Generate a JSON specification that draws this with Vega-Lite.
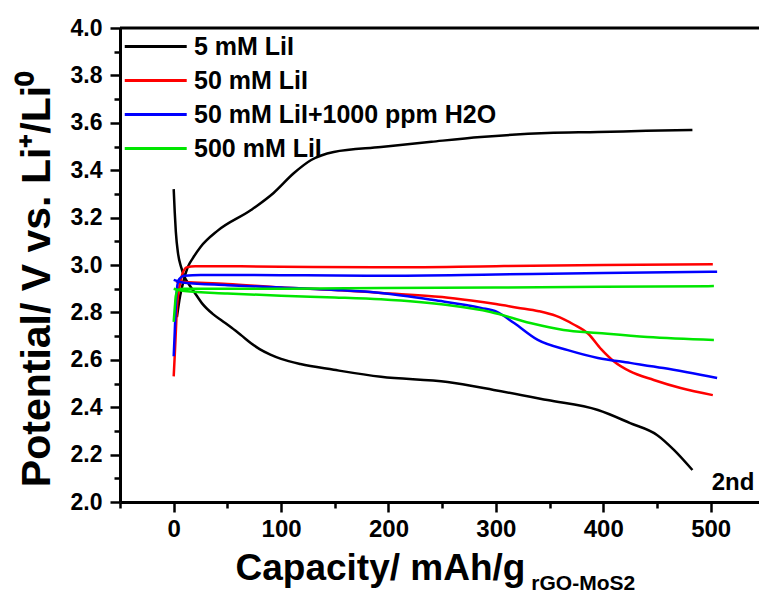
{
  "$schema": "https://vega.github.io/schema/vega-lite/v6.json",
  "width": 639,
  "height": 474,
  "autosize": {"type": "none"},
  "padding": {"left": 120, "top": 28, "right": 0, "bottom": 92},
  "background": "white",
  "config": {
    "view": {"stroke": null},
    "font": "Liberation Sans",
    "axis": {"grid": false, "labelFont": "Liberation Sans", "labelFontWeight": "bold", "labelColor": "black", "titleFont": "Liberation Sans", "titleFontWeight": "bold", "titleColor": "black", "domainColor": "black", "tickColor": "black"}
  },
  "datasets": {
    "curves": [
      {"s": "5 mM LiI", "b": "d", "i": 1, "x": 0, "y": 3.32},
      {"s": "5 mM LiI", "b": "d", "i": 2, "x": 1, "y": 3.22},
      {"s": "5 mM LiI", "b": "d", "i": 3, "x": 2, "y": 3.14},
      {"s": "5 mM LiI", "b": "d", "i": 4, "x": 4, "y": 3.05},
      {"s": "5 mM LiI", "b": "d", "i": 5, "x": 7, "y": 2.99},
      {"s": "5 mM LiI", "b": "d", "i": 6, "x": 10, "y": 2.95},
      {"s": "5 mM LiI", "b": "d", "i": 7, "x": 14, "y": 2.92},
      {"s": "5 mM LiI", "b": "d", "i": 8, "x": 20, "y": 2.88},
      {"s": "5 mM LiI", "b": "d", "i": 9, "x": 27, "y": 2.835},
      {"s": "5 mM LiI", "b": "d", "i": 10, "x": 36, "y": 2.795},
      {"s": "5 mM LiI", "b": "d", "i": 11, "x": 45, "y": 2.765},
      {"s": "5 mM LiI", "b": "d", "i": 12, "x": 54, "y": 2.735},
      {"s": "5 mM LiI", "b": "d", "i": 13, "x": 63, "y": 2.703},
      {"s": "5 mM LiI", "b": "d", "i": 14, "x": 72, "y": 2.67},
      {"s": "5 mM LiI", "b": "d", "i": 15, "x": 80, "y": 2.645},
      {"s": "5 mM LiI", "b": "d", "i": 16, "x": 90, "y": 2.622},
      {"s": "5 mM LiI", "b": "d", "i": 17, "x": 100, "y": 2.604},
      {"s": "5 mM LiI", "b": "d", "i": 18, "x": 118, "y": 2.582},
      {"s": "5 mM LiI", "b": "d", "i": 19, "x": 149, "y": 2.558},
      {"s": "5 mM LiI", "b": "d", "i": 20, "x": 193, "y": 2.528},
      {"s": "5 mM LiI", "b": "d", "i": 21, "x": 255, "y": 2.506},
      {"s": "5 mM LiI", "b": "d", "i": 22, "x": 298, "y": 2.473},
      {"s": "5 mM LiI", "b": "d", "i": 23, "x": 348, "y": 2.43},
      {"s": "5 mM LiI", "b": "d", "i": 24, "x": 395, "y": 2.388},
      {"s": "5 mM LiI", "b": "d", "i": 25, "x": 425, "y": 2.333},
      {"s": "5 mM LiI", "b": "d", "i": 26, "x": 450, "y": 2.283},
      {"s": "5 mM LiI", "b": "d", "i": 27, "x": 466, "y": 2.219},
      {"s": "5 mM LiI", "b": "d", "i": 28, "x": 483, "y": 2.135},
      {"s": "5 mM LiI", "b": "c", "i": 1, "x": 3, "y": 2.78},
      {"s": "5 mM LiI", "b": "c", "i": 2, "x": 6, "y": 2.87},
      {"s": "5 mM LiI", "b": "c", "i": 3, "x": 9, "y": 2.93},
      {"s": "5 mM LiI", "b": "c", "i": 4, "x": 13, "y": 2.99},
      {"s": "5 mM LiI", "b": "c", "i": 5, "x": 18, "y": 3.03},
      {"s": "5 mM LiI", "b": "c", "i": 6, "x": 25, "y": 3.076},
      {"s": "5 mM LiI", "b": "c", "i": 7, "x": 41, "y": 3.145},
      {"s": "5 mM LiI", "b": "c", "i": 8, "x": 72, "y": 3.232},
      {"s": "5 mM LiI", "b": "c", "i": 9, "x": 93, "y": 3.304},
      {"s": "5 mM LiI", "b": "c", "i": 10, "x": 112, "y": 3.388},
      {"s": "5 mM LiI", "b": "c", "i": 11, "x": 128, "y": 3.443},
      {"s": "5 mM LiI", "b": "c", "i": 12, "x": 149, "y": 3.477},
      {"s": "5 mM LiI", "b": "c", "i": 13, "x": 193, "y": 3.498},
      {"s": "5 mM LiI", "b": "c", "i": 14, "x": 240, "y": 3.52},
      {"s": "5 mM LiI", "b": "c", "i": 15, "x": 286, "y": 3.54},
      {"s": "5 mM LiI", "b": "c", "i": 16, "x": 348, "y": 3.557},
      {"s": "5 mM LiI", "b": "c", "i": 17, "x": 395, "y": 3.561},
      {"s": "5 mM LiI", "b": "c", "i": 18, "x": 440, "y": 3.566},
      {"s": "5 mM LiI", "b": "c", "i": 19, "x": 483, "y": 3.57},

      {"s": "50 mM LiI", "b": "c", "i": 1, "x": 0, "y": 2.53},
      {"s": "50 mM LiI", "b": "c", "i": 2, "x": 1, "y": 2.62},
      {"s": "50 mM LiI", "b": "c", "i": 3, "x": 2, "y": 2.72},
      {"s": "50 mM LiI", "b": "c", "i": 4, "x": 3, "y": 2.82},
      {"s": "50 mM LiI", "b": "c", "i": 5, "x": 5, "y": 2.9},
      {"s": "50 mM LiI", "b": "c", "i": 6, "x": 8, "y": 2.96},
      {"s": "50 mM LiI", "b": "c", "i": 7, "x": 12, "y": 2.99},
      {"s": "50 mM LiI", "b": "c", "i": 8, "x": 20, "y": 2.995},
      {"s": "50 mM LiI", "b": "c", "i": 9, "x": 100, "y": 2.993},
      {"s": "50 mM LiI", "b": "c", "i": 10, "x": 193, "y": 2.99},
      {"s": "50 mM LiI", "b": "c", "i": 11, "x": 300, "y": 2.995},
      {"s": "50 mM LiI", "b": "c", "i": 12, "x": 400, "y": 3.0},
      {"s": "50 mM LiI", "b": "c", "i": 13, "x": 502, "y": 3.003},
      {"s": "50 mM LiI", "b": "d", "i": 1, "x": 2, "y": 2.93},
      {"s": "50 mM LiI", "b": "d", "i": 2, "x": 10, "y": 2.928},
      {"s": "50 mM LiI", "b": "d", "i": 3, "x": 50, "y": 2.92},
      {"s": "50 mM LiI", "b": "d", "i": 4, "x": 100, "y": 2.905},
      {"s": "50 mM LiI", "b": "d", "i": 5, "x": 150, "y": 2.895},
      {"s": "50 mM LiI", "b": "d", "i": 6, "x": 193, "y": 2.882},
      {"s": "50 mM LiI", "b": "d", "i": 7, "x": 250, "y": 2.865},
      {"s": "50 mM LiI", "b": "d", "i": 8, "x": 277, "y": 2.85},
      {"s": "50 mM LiI", "b": "d", "i": 9, "x": 300, "y": 2.835},
      {"s": "50 mM LiI", "b": "d", "i": 10, "x": 320, "y": 2.82},
      {"s": "50 mM LiI", "b": "d", "i": 11, "x": 340, "y": 2.805},
      {"s": "50 mM LiI", "b": "d", "i": 12, "x": 356, "y": 2.785},
      {"s": "50 mM LiI", "b": "d", "i": 13, "x": 372, "y": 2.75},
      {"s": "50 mM LiI", "b": "d", "i": 14, "x": 386, "y": 2.71},
      {"s": "50 mM LiI", "b": "d", "i": 15, "x": 398, "y": 2.645},
      {"s": "50 mM LiI", "b": "d", "i": 16, "x": 410, "y": 2.593},
      {"s": "50 mM LiI", "b": "d", "i": 17, "x": 425, "y": 2.551},
      {"s": "50 mM LiI", "b": "d", "i": 18, "x": 447, "y": 2.515},
      {"s": "50 mM LiI", "b": "d", "i": 19, "x": 472, "y": 2.481},
      {"s": "50 mM LiI", "b": "d", "i": 20, "x": 502, "y": 2.451},

      {"s": "50 mM LiI+1000 ppm H2O", "b": "c", "i": 1, "x": 0, "y": 2.615},
      {"s": "50 mM LiI+1000 ppm H2O", "b": "c", "i": 2, "x": 1, "y": 2.72},
      {"s": "50 mM LiI+1000 ppm H2O", "b": "c", "i": 3, "x": 2, "y": 2.83},
      {"s": "50 mM LiI+1000 ppm H2O", "b": "c", "i": 4, "x": 3, "y": 2.9},
      {"s": "50 mM LiI+1000 ppm H2O", "b": "c", "i": 5, "x": 5, "y": 2.94},
      {"s": "50 mM LiI+1000 ppm H2O", "b": "c", "i": 6, "x": 10, "y": 2.955},
      {"s": "50 mM LiI+1000 ppm H2O", "b": "c", "i": 7, "x": 25, "y": 2.958},
      {"s": "50 mM LiI+1000 ppm H2O", "b": "c", "i": 8, "x": 100, "y": 2.957},
      {"s": "50 mM LiI+1000 ppm H2O", "b": "c", "i": 9, "x": 193, "y": 2.955},
      {"s": "50 mM LiI+1000 ppm H2O", "b": "c", "i": 10, "x": 300, "y": 2.96},
      {"s": "50 mM LiI+1000 ppm H2O", "b": "c", "i": 11, "x": 400, "y": 2.966},
      {"s": "50 mM LiI+1000 ppm H2O", "b": "c", "i": 12, "x": 506, "y": 2.972},
      {"s": "50 mM LiI+1000 ppm H2O", "b": "d", "i": 1, "x": 0, "y": 2.937},
      {"s": "50 mM LiI+1000 ppm H2O", "b": "d", "i": 2, "x": 5, "y": 2.93},
      {"s": "50 mM LiI+1000 ppm H2O", "b": "d", "i": 3, "x": 10, "y": 2.925},
      {"s": "50 mM LiI+1000 ppm H2O", "b": "d", "i": 4, "x": 50, "y": 2.915},
      {"s": "50 mM LiI+1000 ppm H2O", "b": "d", "i": 5, "x": 100, "y": 2.905},
      {"s": "50 mM LiI+1000 ppm H2O", "b": "d", "i": 6, "x": 150, "y": 2.895},
      {"s": "50 mM LiI+1000 ppm H2O", "b": "d", "i": 7, "x": 193, "y": 2.882},
      {"s": "50 mM LiI+1000 ppm H2O", "b": "d", "i": 8, "x": 242, "y": 2.852},
      {"s": "50 mM LiI+1000 ppm H2O", "b": "d", "i": 9, "x": 286, "y": 2.819},
      {"s": "50 mM LiI+1000 ppm H2O", "b": "d", "i": 10, "x": 301, "y": 2.802},
      {"s": "50 mM LiI+1000 ppm H2O", "b": "d", "i": 11, "x": 317, "y": 2.755},
      {"s": "50 mM LiI+1000 ppm H2O", "b": "d", "i": 12, "x": 339, "y": 2.684},
      {"s": "50 mM LiI+1000 ppm H2O", "b": "d", "i": 13, "x": 367, "y": 2.641},
      {"s": "50 mM LiI+1000 ppm H2O", "b": "d", "i": 14, "x": 395, "y": 2.608},
      {"s": "50 mM LiI+1000 ppm H2O", "b": "d", "i": 15, "x": 425, "y": 2.587},
      {"s": "50 mM LiI+1000 ppm H2O", "b": "d", "i": 16, "x": 456, "y": 2.565},
      {"s": "50 mM LiI+1000 ppm H2O", "b": "d", "i": 17, "x": 506, "y": 2.523},

      {"s": "500 mM LiI", "b": "c", "i": 1, "x": 0, "y": 2.76},
      {"s": "500 mM LiI", "b": "c", "i": 2, "x": 1, "y": 2.82},
      {"s": "500 mM LiI", "b": "c", "i": 3, "x": 2, "y": 2.87},
      {"s": "500 mM LiI", "b": "c", "i": 4, "x": 4, "y": 2.895},
      {"s": "500 mM LiI", "b": "c", "i": 5, "x": 10, "y": 2.9},
      {"s": "500 mM LiI", "b": "c", "i": 6, "x": 100, "y": 2.9},
      {"s": "500 mM LiI", "b": "c", "i": 7, "x": 193, "y": 2.903},
      {"s": "500 mM LiI", "b": "c", "i": 8, "x": 300, "y": 2.905},
      {"s": "500 mM LiI", "b": "c", "i": 9, "x": 400, "y": 2.908},
      {"s": "500 mM LiI", "b": "c", "i": 10, "x": 503, "y": 2.911},
      {"s": "500 mM LiI", "b": "d", "i": 1, "x": 0, "y": 2.9},
      {"s": "500 mM LiI", "b": "d", "i": 2, "x": 10, "y": 2.89},
      {"s": "500 mM LiI", "b": "d", "i": 3, "x": 50, "y": 2.88},
      {"s": "500 mM LiI", "b": "d", "i": 4, "x": 100, "y": 2.87},
      {"s": "500 mM LiI", "b": "d", "i": 5, "x": 150, "y": 2.863},
      {"s": "500 mM LiI", "b": "d", "i": 6, "x": 193, "y": 2.855},
      {"s": "500 mM LiI", "b": "d", "i": 7, "x": 255, "y": 2.831},
      {"s": "500 mM LiI", "b": "d", "i": 8, "x": 295, "y": 2.802},
      {"s": "500 mM LiI", "b": "d", "i": 9, "x": 332, "y": 2.755},
      {"s": "500 mM LiI", "b": "d", "i": 10, "x": 363, "y": 2.726},
      {"s": "500 mM LiI", "b": "d", "i": 11, "x": 395, "y": 2.713},
      {"s": "500 mM LiI", "b": "d", "i": 12, "x": 441, "y": 2.696},
      {"s": "500 mM LiI", "b": "d", "i": 13, "x": 503, "y": 2.684}
    ]
  },
  "resolve": {"axis": {"x": "independent", "y": "independent"}},
  "layer": [
    {
      "data": {"name": "curves"},
      "mark": {"type": "line", "strokeWidth": 2.5, "interpolate": "monotone"},
      "encoding": {
        "x": {"field": "x", "type": "quantitative", "scale": {"domain": [-50, 545], "nice": false, "zero": false},
              "axis": {"values": [0, 100, 200, 300, 400, 500], "domainWidth": 3, "tickWidth": 2.5, "tickSize": 10, "labelFontSize": 24, "labelPadding": 5, "title": "Capacity/ mAh/g", "titleFontSize": 37, "titleAlign": "left", "titleAnchor": "start", "titleX": 115, "titleY": 77, "titleBaseline": "alphabetic"}},
        "y": {"field": "y", "type": "quantitative", "scale": {"domain": [2, 4], "nice": false, "zero": false},
              "axis": {"values": [2.0, 2.2, 2.4, 2.6, 2.8, 3.0, 3.2, 3.4, 3.6, 3.8, 4.0], "format": ".1f", "domainWidth": 3, "tickWidth": 2.5, "tickSize": 10, "labelFontSize": 23, "labelPadding": 8, "title": "Potential/ V vs. Li⁺/Li⁰", "titleFontSize": 41, "titleAngle": -90, "titleAlign": "center", "titleX": -71, "titleY": 251, "titleBaseline": "alphabetic"}},
        "color": {"field": "s", "type": "nominal", "sort": ["5 mM LiI", "50 mM LiI", "50 mM LiI+1000 ppm H2O", "500 mM LiI"],
                  "scale": {"domain": ["5 mM LiI", "50 mM LiI", "50 mM LiI+1000 ppm H2O", "500 mM LiI"], "range": ["#000000", "#ff0000", "#0000ff", "#00e600"]},
                  "legend": {"title": null, "orient": "none", "legendX": 0, "legendY": 6, "symbolType": "M-1,0H7", "symbolSize": 240, "symbolStrokeWidth": 3, "labelOffset": 49, "labelFont": "Liberation Sans", "labelFontWeight": "bold", "labelFontSize": 25, "labelColor": "black", "rowPadding": 8, "labelLimit": 500}},
        "detail": {"field": "b", "type": "nominal"},
        "order": {"field": "i", "type": "quantitative"}
      }
    },
    {
      "data": {"values": [{}]},
      "mark": {"type": "rule", "strokeWidth": 3, "color": "black"},
      "encoding": {
        "y": {"datum": 4, "type": "quantitative", "scale": {"domain": [2, 4], "nice": false, "zero": false},
              "axis": {"values": [2.1, 2.3, 2.5, 2.7, 2.9, 3.1, 3.3, 3.5, 3.7, 3.9], "labels": false, "domain": false, "tickWidth": 2.5, "tickSize": 6, "title": null, "orient": "left"}}
      }
    },
    {
      "data": {"values": [{"t": "2nd"}]},
      "mark": {"type": "text", "align": "left", "baseline": "alphabetic", "font": "Liberation Sans", "fontWeight": "bold", "fontSize": 24, "color": "black"},
      "encoding": {
        "x": {"datum": 501, "type": "quantitative", "scale": {"domain": [-50, 545], "nice": false, "zero": false},
              "axis": {"values": [-50, 50, 150, 250, 350, 450], "labels": false, "domain": false, "tickWidth": 2.5, "tickSize": 6, "title": null, "orient": "bottom"}},
        "y": {"datum": 2.051, "type": "quantitative", "axis": null},
        "text": {"field": "t"}
      }
    },
    {
      "data": {"values": [{"t": "rGO-MoS2"}]},
      "mark": {"type": "text", "align": "left", "baseline": "alphabetic", "font": "Liberation Sans", "fontWeight": "bold", "fontSize": 21, "color": "black"},
      "encoding": {
        "x": {"datum": 333, "type": "quantitative", "axis": null},
        "y": {"datum": 1.63, "type": "quantitative", "axis": null},
        "text": {"field": "t"}
      }
    }
  ]
}
